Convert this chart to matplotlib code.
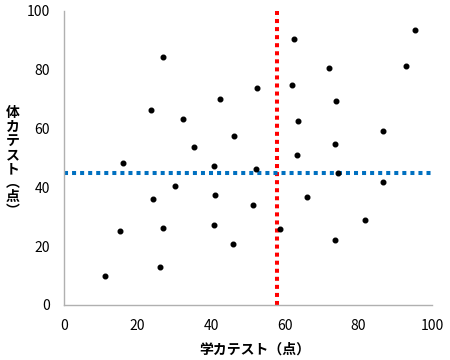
import matplotlib
matplotlib.use("Agg")
import matplotlib.pyplot as plt

plt.rcParams["font.family"] = ["Noto Sans CJK JP", "DejaVu Sans"]

# ---------------- DATA ----------------
gaku = [11.2, 15.2, 16.1, 23.7, 24.1, 26.1, 26.8, 26.8, 30.2, 32.4, 35.4, 40.8,
        41.1, 40.8, 42.4, 46.1, 45.9, 51.3, 52.4, 52.2, 58.8, 62.4, 62.0, 63.5,
        63.3, 66.1, 71.9, 74.0, 73.6, 74.5, 73.6, 81.9, 86.8, 86.8, 92.9, 95.5]
tai = [9.9, 25.3, 48.3, 66.2, 36.1, 12.9, 84.3, 26.2, 40.4, 63.2, 53.8, 47.3,
       37.5, 27.1, 70.2, 57.6, 20.6, 34.1, 73.9, 46.3, 26.0, 90.4, 74.8, 62.5,
       51.0, 36.8, 80.6, 69.3, 54.8, 45.0, 22.0, 28.8, 59.1, 41.8, 81.2, 93.4]
gaku_mean = 58
tai_mean = 45
ticks = [0, 20, 40, 60, 80, 100]

x_label = "学カテスト（点）"
y_label = "体カテスト︵点︶"

# ---------------- PLOT ----------------
fig = plt.figure(figsize=(4.5, 3.6), dpi=100)
ax = fig.add_axes([64 / 450, 55 / 360, 368 / 450, 294 / 360])

ax.scatter(gaku, tai, s=11, color="black", zorder=3)
ax.axvline(gaku_mean, color="#ff0000", lw=2.9, linestyle=(0, (1, 1)), zorder=2)
ax.axhline(tai_mean, color="#0070c0", lw=2.9, linestyle=(0, (1, 1)), zorder=2)

ax.set_xlim(0, 100)
ax.set_ylim(0, 100)
ax.set_xticks(ticks)
ax.set_yticks(ticks)
ax.tick_params(length=0, labelsize=10, pad=10)

for s in ["top", "right"]:
    ax.spines[s].set_visible(False)
for s in ["left", "bottom"]:
    ax.spines[s].set_color("#b0b0b0")
    ax.spines[s].set_linewidth(1)

fig.text(255 / 450, 1 - 350 / 360, x_label, ha="center", va="center",
         fontsize=10, fontweight="bold")
fig.text(13 / 450, 1 - 162 / 360, "\n".join(y_label), ha="center", va="center",
         fontsize=10, linespacing=1.0, fontweight="bold")

fig.savefig("out.png", dpi=100)
